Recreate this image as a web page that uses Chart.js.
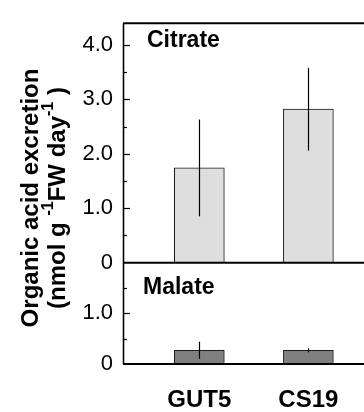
<!DOCTYPE html>
<html>
<head>
<meta charset="utf-8">
<script src="https://cdn.jsdelivr.net/npm/chart.js@4"></script>
<style>
  html, body { margin: 0; padding: 0; background: #fff; overflow: hidden; }
  #wrap { width: 364px; height: 412px; }
</style>
</head>
<body>
<div id="wrap"><canvas id="acidChart" width="364" height="412"></canvas></div>
<script>
// genotypes and where they sit on the x axis
const groups = ['GUT5', 'CS19'];
const groupPos = [1, 2];

// citrate panel (nmol g-1 FW day-1)
const citrateMean = [1.74, 2.82];
const citrateSd = [0.89, 0.76];
const citrateTicks = [0, 1, 2, 3, 4];

// malate panel
const malateMean = [0.27, 0.27];
const malateSd = [0.17, 0.04];
const malateTicks = [0, 1];

const FONT = "'Liberation Sans', Arial, sans-serif";

function toPoints(means) {
    return means.map((v, i) => ({ x: groupPos[i], y: v }));
}

function tickLabel(v) {
    return v === 0 ? '0' : v.toFixed(1);
}

// frame, minor ticks, panel names and the y title
const framePlugin = {
    id: 'frame',
    afterDraw(chart) {
        const ctx = chart.ctx;
        const area = chart.chartArea;
        const yC = chart.scales.yC;
        const yM = chart.scales.yM;
        ctx.save();
        ctx.strokeStyle = '#000';

        // tick marks pointing inward, major every 1.0, minor every 0.5
        ctx.lineWidth = 1.2;
        [[yC, 4], [yM, 1.5]].forEach(([sc, top]) => {
            for (let v = 0.5; v <= top + 0.001; v += 0.5) {
                const y = Math.round(sc.getPixelForValue(v)) + 0.5;
                const len = Number.isInteger(v) ? 7 : 4;
                ctx.beginPath();
                ctx.moveTo(area.left, y);
                ctx.lineTo(area.left + len, y);
                ctx.stroke();
            }
        });

        // left axis line
        ctx.lineWidth = 1.6;
        ctx.beginPath();
        ctx.moveTo(area.left + 0.5, area.top);
        ctx.lineTo(area.left + 0.5, area.bottom);
        ctx.stroke();

        // top, middle and bottom horizontal lines
        ctx.lineWidth = 2;
        [area.top, yC.getPixelForValue(0), area.bottom].forEach(y => {
            ctx.beginPath();
            ctx.moveTo(area.left, y);
            ctx.lineTo(chart.width, y);
            ctx.stroke();
        });

        // panel names
        ctx.fillStyle = '#000';
        ctx.font = 'bold 23px ' + FONT;
        ctx.textBaseline = 'middle';
        ctx.textAlign = 'left';
        ctx.fillText('Citrate', 147, 41);
        ctx.fillText('Malate', 143, 288);

        // rotated y title with superscripts
        ctx.rotate(-Math.PI / 2);
        const cy = 198;
        ctx.font = 'bold 24px ' + FONT;
        ctx.textAlign = 'center';
        ctx.fillText('Organic acid excretion', -cy, 31);

        const parts = [
            ['(nmol g ', false], ['-1', true], ['FW day', false], ['-1', true], [' )', false]
        ];
        const mainFont = 'bold 24px ' + FONT;
        const supFont = 'bold 16px ' + FONT;
        let total = 0;
        parts.forEach(([t, sup]) => {
            ctx.font = sup ? supFont : mainFont;
            total += ctx.measureText(t).width;
        });
        let x = -cy - total / 2;
        ctx.textAlign = 'left';
        parts.forEach(([t, sup]) => {
            ctx.font = sup ? supFont : mainFont;
            ctx.fillText(t, x, sup ? 49 : 58);
            x += ctx.measureText(t).width;
        });
        ctx.restore();
    }
};

// vertical standard deviation lines
const errorPlugin = {
    id: 'errorLines',
    afterDatasetsDraw(chart) {
        const ctx = chart.ctx;
        const xs = chart.scales.x;
        ctx.save();
        ctx.strokeStyle = '#000';
        ctx.lineWidth = 1.2;
        [[chart.scales.yC, citrateMean, citrateSd], [chart.scales.yM, malateMean, malateSd]]
            .forEach(([sc, means, sds]) => {
                means.forEach((m, i) => {
                    const x = Math.round(xs.getPixelForValue(groupPos[i])) + 0.5;
                    ctx.beginPath();
                    ctx.moveTo(x, sc.getPixelForValue(m + sds[i]));
                    ctx.lineTo(x, sc.getPixelForValue(m - sds[i]));
                    ctx.stroke();
                });
            });
        ctx.restore();
    }
};

const yCommon = {
    type: 'linear',
    position: 'left',
    stack: 'panels',
    grid: { display: false, drawTicks: false },
    border: { display: false },
    ticks: {
        color: '#000',
        padding: 10,
        font: { family: FONT, size: 22 },
        callback: tickLabel
    },
    afterFit(scale) { scale.width = 123; }
};

new Chart(document.getElementById('acidChart'), {
    type: 'bar',
    data: {
        datasets: [
            {
                label: 'Malate',
                data: toPoints(malateMean),
                yAxisID: 'yM',
                backgroundColor: '#808080',
                borderColor: '#1a1a1a',
                borderWidth: 1,
                barThickness: 50,
                grouped: false
            },
            {
                label: 'Citrate',
                data: toPoints(citrateMean),
                yAxisID: 'yC',
                backgroundColor: '#dedede',
                borderColor: '#1a1a1a',
                borderWidth: 1,
                barThickness: 50,
                grouped: false
            }
        ]
    },
    options: {
        responsive: false,
        animation: false,
        layout: { padding: { top: 11, right: 0, left: 0, bottom: 0 } },
        plugins: { legend: { display: false }, tooltip: { enabled: false } },
        scales: {
            x: {
                type: 'linear',
                min: 0.3,
                max: 2.51,
                offset: false,
                grid: { display: false, drawTicks: false },
                border: { display: false },
                afterBuildTicks(scale) { scale.ticks = groupPos.map(v => ({ value: v })); },
                afterFit(scale) { scale.height = 48; },
                ticks: {
                    color: '#000',
                    padding: 22,
                    font: { family: FONT, size: 24, weight: 'bold' },
                    callback: v => groups[groupPos.indexOf(v)]
                }
            },
            yM: Object.assign({}, yCommon, {
                min: 0, max: 2, stackWeight: 105,
                afterBuildTicks(scale) { scale.ticks = malateTicks.map(v => ({ value: v })); }
            }),
            yC: Object.assign({}, yCommon, {
                min: 0, max: 4.4, stackWeight: 248,
                afterBuildTicks(scale) { scale.ticks = citrateTicks.map(v => ({ value: v })); }
            })
        }
    },
    plugins: [errorPlugin, framePlugin]
});
</script>
</body>
</html>
